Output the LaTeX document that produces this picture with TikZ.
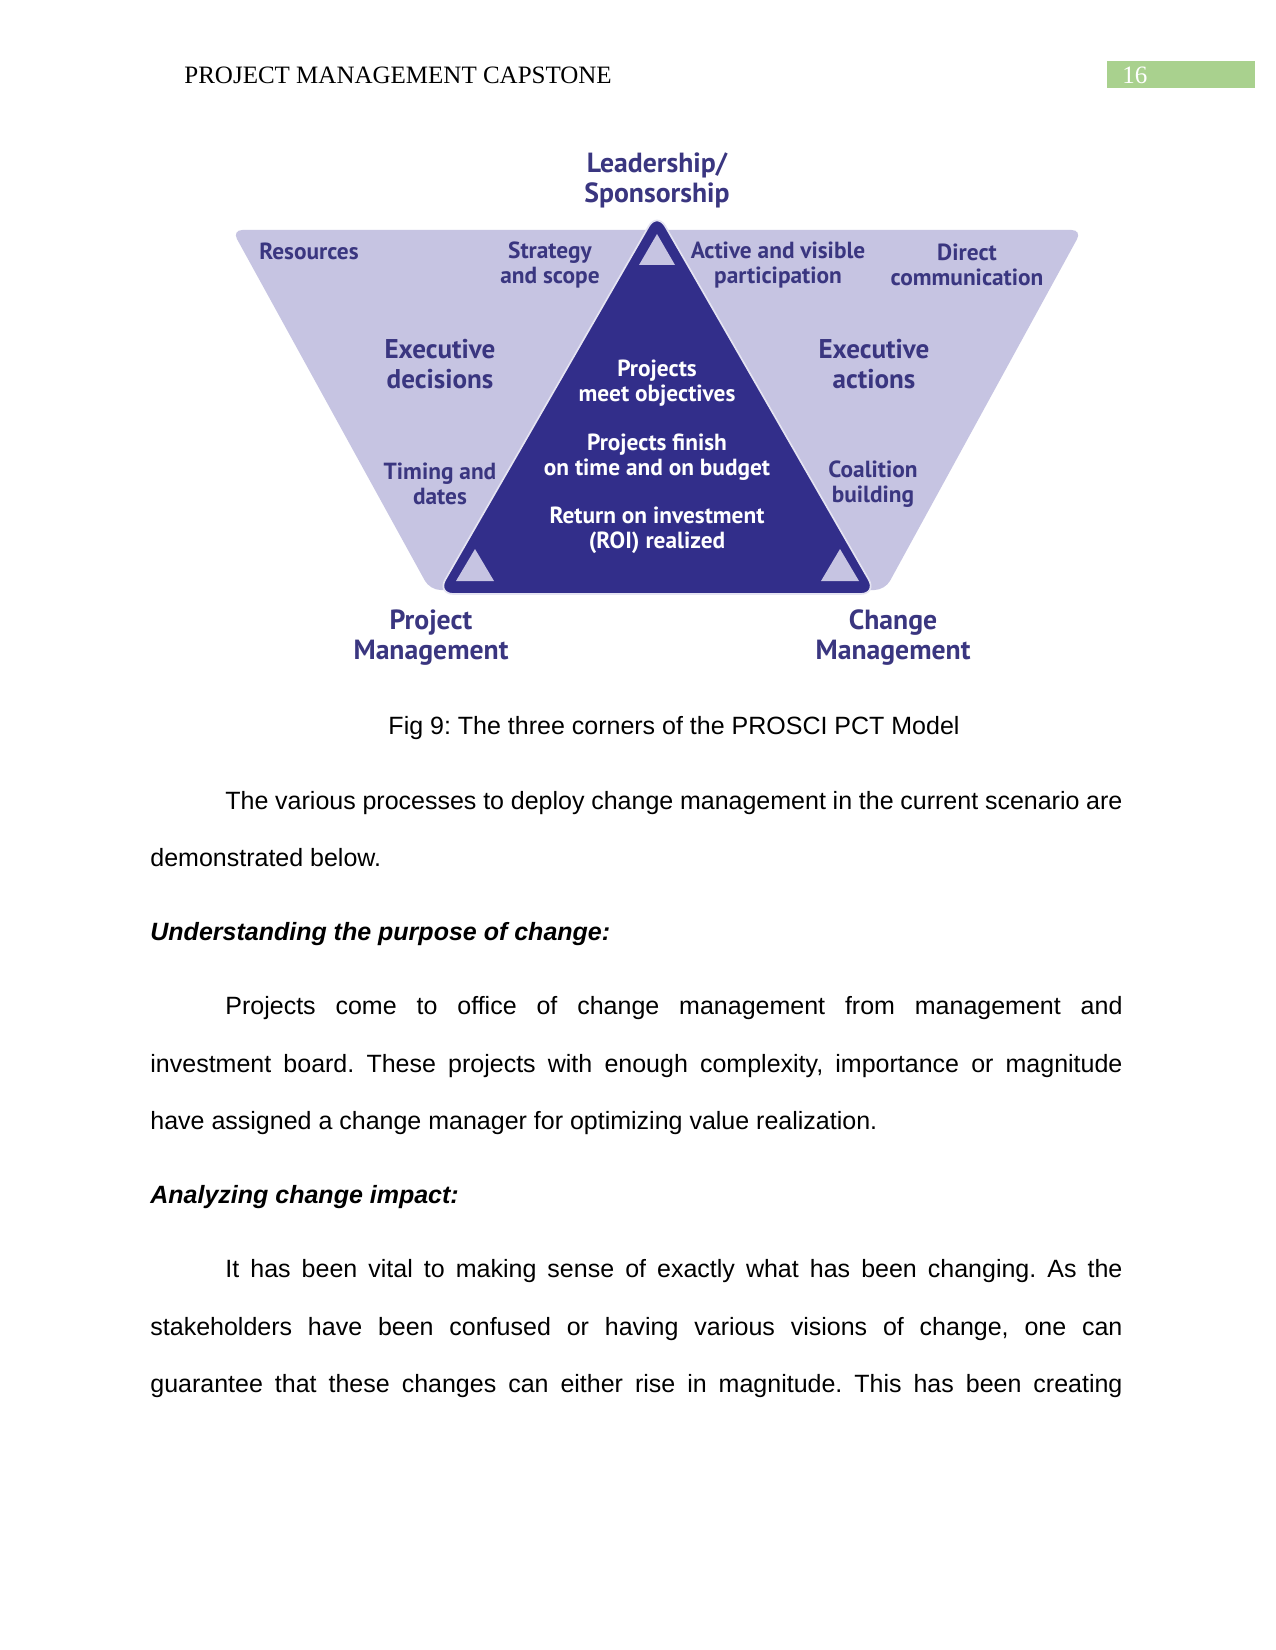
\documentclass[tikz,border=0pt]{standalone}
\usepackage{fontspec}
\setmainfont{Liberation Sans}
\newfontfamily\headfont{Liberation Serif}
\newfontfamily\pctfont{PT Sans}
\usetikzlibrary{positioning}
\definecolor{pctdark}{RGB}{50, 46, 138}
\definecolor{pctlight}{RGB}{198, 196, 226}
\definecolor{pcttext}{RGB}{58, 54, 128}
\definecolor{pagegreen}{RGB}{169, 209, 142}
\frenchspacing

\begin{document}
\begin{tikzpicture}[
    x=0.48pt, y=-0.48pt,
    corner/.style={
      align=center, text=pcttext, inner sep=0pt,
      font=\pctfont\bfseries\fontsize{13.3}{14.4}\selectfont
    },
    area/.style={
      align=center, text=pcttext, inner sep=0pt,
      font=\pctfont\bfseries\fontsize{13}{14.4}\selectfont
    },
    item/.style={
      align=center, text=pcttext, inner sep=0pt,
      font=\pctfont\bfseries\fontsize{11.2}{12}\selectfont
    },
    goal/.style={
      align=center, text=white, inner sep=0pt,
      font=\pctfont\bfseries\fontsize{11.2}{12}\selectfont
    },
    tip/.style={fill=pctlight},
    bodyline/.style={anchor=mid west, inner sep=0pt, font=\fontsize{12}{14}\selectfont},
    heading/.style={bodyline, font=\fontsize{12}{14}\selectfont\bfseries\itshape},
]
    \fill[white] (0,0) rectangle (1275,1650);
    \useasboundingbox (0,0) rectangle (1275,1650);

    % Running head
    \node[anchor=base west, inner sep=0pt, font=\headfont\fontsize{12}{14}\selectfont]
      (hdr) at (184,84) {PROJECT MANAGEMENT CAPSTONE};
    \fill[pagegreen] (1107,61) rectangle (1255,88);
    \node[anchor=base west, inner sep=0pt, text=white, font=\headfont\fontsize{12}{14}\selectfont]
      (pagenum) at (1122,84) {16};

    % Outer band and inner triangle
    \fill[pctlight, rounded corners=5pt] (232,230) -- (1082,230) -- (885,590) -- (430,590) -- cycle;
    \fill[pctdark, draw=white!55!pctlight, line width=0.8pt, rounded corners=8pt]
      (657,212) -- (877,594) -- (437,594) -- cycle;
    \fill[tip] (657,234) -- (675,265) -- (639,265) -- cycle;
    \fill[tip] (475,549) -- (494,581) -- (456,581) -- cycle;
    \fill[tip] (840,549) -- (859,581) -- (821,581) -- cycle;

    % Corners
    \node[corner] (lead) at (657,180) {Leadership/\\Sponsorship};
    \node[corner] (pm) at (431,638) {Project\\Management};
    \node[corner] (cm) at (893,638) {Change\\Management};

    % Band texts
    \node[item] (res) at (309,251) {Resources};
    \node[item] (strat) at (550,265) {Strategy\\and scope};
    \node[item] (active) at (778,265) {Active and visible\\participation};
    \node[item] (direct) at (967,265) {Direct\\communication};
    \node[area] (execdec) at (440,364) {Executive\\decisions};
    \node[area] (execact) at (874,364) {Executive\\actions};
    \node[item] (timing) at (440,484) {Timing and\\dates};
    \node[item] (coalition) at (873,484) {Coalition\\building};

    % Outcomes
    \node[goal] (goalobj) at (657,383) {Projects\\meet objectives};
    \node[goal] (goaltime) at (657,457) {Projects finish\\on time and on budget};
    \node[goal] (goalroi) at (657,530) {Return on investment\\(ROI) realized};

    % Caption and body
    \node[anchor=mid, inner sep=0pt, font=\fontsize{12}{14}\selectfont]
      (caption) at (674,729) {Fig 9: The three corners of the PROSCI PCT Model};
    \node[bodyline] (p1a) at (225,804)
      {\makebox[430.6pt][s]{The various processes to deploy change management in the current scenario are}};
    \node[bodyline] (p1b) at (150,861) {demonstrated below.};
    \node[heading] (h1) at (150,935) {Understanding the purpose of change:};
    \node[bodyline] (p2a) at (225,1009)
      {\makebox[430.6pt][s]{Projects come to office of change management from management and}};
    \node[bodyline] (p2b) at (150,1067)
      {\makebox[466.6pt][s]{investment board. These projects with enough complexity, importance or magnitude}};
    \node[bodyline] (p2c) at (150,1124) {have assigned a change manager for optimizing value realization.};
    \node[heading] (h2) at (150,1198) {Analyzing change impact:};
    \node[bodyline] (p3a) at (225,1272)
      {\makebox[430.6pt][s]{It has been vital to making sense of exactly what has been changing. As the}};
    \node[bodyline] (p3b) at (150,1330)
      {\makebox[466.6pt][s]{stakeholders have been confused or having various visions of change, one can}};
    \node[bodyline] (p3c) at (150,1387)
      {\makebox[466.6pt][s]{guarantee that these changes can either rise in magnitude. This has been creating}};
\end{tikzpicture}
\end{document}
